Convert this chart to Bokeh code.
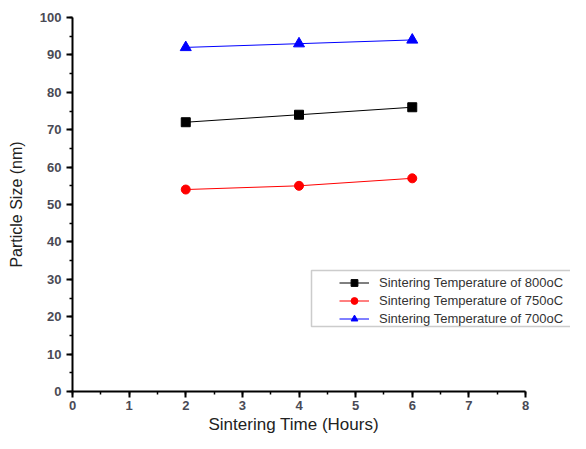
from bokeh.plotting import figure
from bokeh.models import Legend, LegendItem, Range1d, FixedTicker, BoxAnnotation, Title
from bokeh.embed import file_html
from bokeh.resources import INLINE

hours = [2, 4, 6]
size_800 = [72, 74, 76]
size_750 = [54, 55, 57]
size_700 = [92, 93, 94]
labels = ["Sintering Temperature of 800oC",
          "Sintering Temperature of 750oC",
          "Sintering Temperature of 700oC"]
x_ticks = list(range(0, 9))
y_ticks = list(range(0, 101, 10))

W, H = 570, 433
LEFT, AXIS_RIGHT = 72, 525
x_end = 8 * (W - LEFT) / (AXIS_RIGHT - LEFT)

p = figure(width=W, height=H, output_backend="svg", toolbar_location=None,
           x_range=Range1d(0, x_end), y_range=Range1d(0, 100),
           min_border_left=LEFT, min_border_right=0, min_border_top=17, min_border_bottom=0)
p.outline_line_color = None
p.xgrid.visible = False
p.ygrid.visible = False

r1l = p.line(hours, size_800, line_color="black", line_width=1)
r1m = p.scatter(hours, size_800, marker="square", size=9, color="black")
r2l = p.line(hours, size_750, line_color="red", line_width=1)
r2m = p.scatter(hours, size_750, marker="circle", size=9, color="red")
r3l = p.line(hours, size_700, line_color="blue", line_width=1)
r3m = p.scatter(hours, size_700, marker="triangle", size=11, color="blue")

for ax in (p.xaxis[0], p.yaxis[0]):
    ax.axis_line_width = 2
    ax.axis_line_color = "black"
    ax.major_tick_line_width = 2
    ax.minor_tick_line_width = 1.5
    ax.major_tick_out = 6
    ax.major_tick_in = 0
    ax.minor_tick_out = 3
    ax.minor_tick_in = 0
    ax.major_label_text_font = "Liberation Sans"
    ax.major_label_text_font_size = "13px"
    ax.major_label_text_font_style = "bold"
    ax.major_label_text_color = "#4a4a55"
    ax.axis_label_text_font = "Liberation Sans"
    ax.axis_label_text_font_style = "normal"
    ax.axis_label_text_color = "#222222"

p.xaxis.bounds = (0, 8)
p.xaxis.ticker = FixedTicker(ticks=x_ticks, minor_ticks=[i * 0.5 for i in range(17)])
p.yaxis.ticker = FixedTicker(ticks=y_ticks, minor_ticks=list(range(0, 101, 5)))
p.yaxis.axis_label = "Particle Size (nm)"
p.yaxis.axis_label_text_font_size = "16px"
p.xaxis.major_label_standoff = 3
p.yaxis.major_label_standoff = 5
p.yaxis.axis_label_standoff = 12

xt = Title(text="Sintering Time (Hours)", align="left", offset=136,
           text_font="Liberation Sans", text_font_size="17px",
           text_font_style="normal", text_color="#222222", standoff=0)
p.add_layout(xt, "below")

box = BoxAnnotation(left=239, right=700, top=121, bottom=65,
                    left_units="screen", right_units="screen",
                    top_units="screen", bottom_units="screen",
                    fill_color="white", fill_alpha=1,
                    line_color="#555555", line_width=1.5, level="overlay")
p.add_layout(box)

legend = Legend(items=[LegendItem(label=labels[0], renderers=[r1l, r1m]),
                       LegendItem(label=labels[1], renderers=[r2l, r2m]),
                       LegendItem(label=labels[2], renderers=[r3l, r3m])],
                location=(267, 64))
legend.label_text_font = "Liberation Sans"
legend.label_text_font_size = "13px"
legend.label_text_color = "#333333"
legend.border_line_color = None
legend.background_fill_alpha = 0
legend.glyph_width = 30
legend.glyph_height = 17
legend.label_height = 17
legend.spacing = 1
legend.padding = 0
legend.margin = 0
legend.label_standoff = 10
legend.level = "overlay"
p.add_layout(legend)

open("out.html", "w").write(file_html(p, INLINE))
